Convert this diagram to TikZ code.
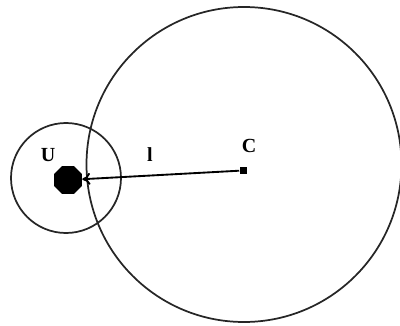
\documentclass[tikz,border=0pt]{standalone}
\usepackage{fontspec}
\setmainfont{Liberation Serif}
\usetikzlibrary{shapes.geometric,arrows.meta}
\tikzset{
  ring/.style={circle,draw=black!85,line width=1.3pt,inner sep=0pt,outer sep=0pt},
  lbl/.style={font=\fontsize{15}{17}\selectfont\bfseries,inner sep=0pt},
  arr/.style={line width=1.4pt,-{To[length=6pt,width=9pt]}}
}
\begin{document}
\begin{tikzpicture}[x=0.75pt,y=-0.75pt]
\clip (0,0) rectangle (400,325);
\node[ring,minimum size=236.25pt] (big) at (244,164.5) {};
\node[ring,minimum size=82.5pt] (small) at (66,178) {};
\node[regular polygon,regular polygon sides=8,fill=black,inner sep=0pt,minimum size=22.7pt] (U) at (68,180) {};
\node[fill=black,inner sep=0pt,minimum size=5.25pt] (C) at (243,170.5) {};
\draw[arr] (C) -- (U);
\node[lbl] (uL) at (48,155) {U};
\node[lbl] (lL) at (150,155) {l};
\node[lbl] (cL) at (249,146) {C};
\end{tikzpicture}
\end{document}
